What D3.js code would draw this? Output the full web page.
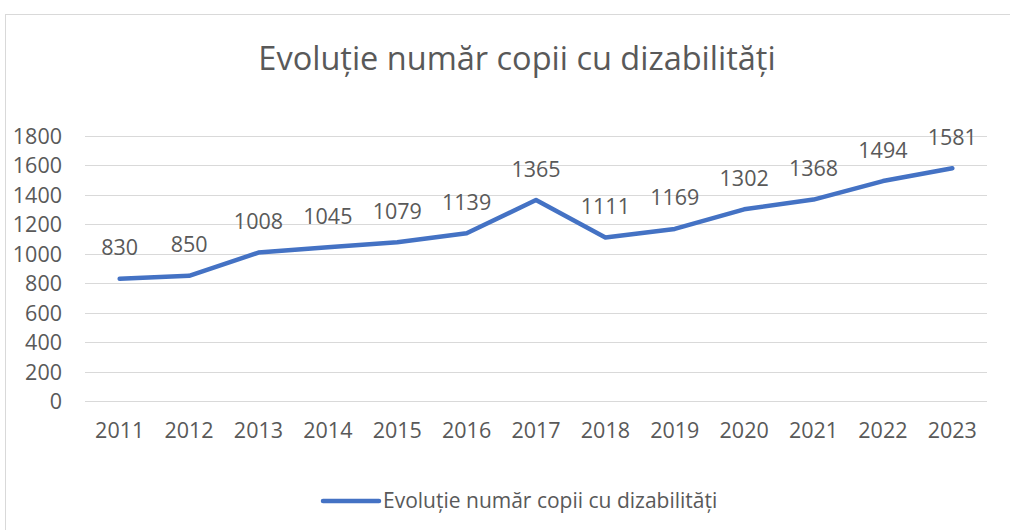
<!DOCTYPE html>
<html>
<head>
<meta charset="utf-8">
<script src="https://cdn.jsdelivr.net/npm/d3@7"></script>
<style>
  body { margin: 0; background: #fff; }
  text { font-family: "Open Sans", sans-serif; fill: #595959; }
</style>
</head>
<body>
<svg id="svg"></svg>
<script>
const chartTitle = 'Evoluție număr copii cu dizabilități';
const seriesName = 'Evoluție număr copii cu dizabilități';
const years = ['2011', '2012', '2013', '2014', '2015', '2016', '2017', '2018', '2019', '2020', '2021', '2022', '2023'];
const counts = [830, 850, 1008, 1045, 1079, 1139, 1365, 1111, 1169, 1302, 1368, 1494, 1581];
const yTicks = [0, 200, 400, 600, 800, 1000, 1200, 1400, 1600, 1800];

const data = years.map((y, i) => ({ year: y, value: counts[i] }));

const W = 1010, H = 530;
const margin = { top: 136, right: 23, bottom: 129, left: 85 };
const width = W - margin.left - margin.right;
const height = H - margin.top - margin.bottom;

const svg = d3.select('#svg').attr('width', W).attr('height', H);

// chart border
svg.append('rect')
  .attr('x', 5.5).attr('y', 14.5)
  .attr('width', W + 20).attr('height', H + 20)
  .attr('fill', 'none').attr('stroke', '#d9d9d9');

// title
svg.append('text')
  .attr('x', 517).attr('y', 70)
  .attr('text-anchor', 'middle')
  .attr('font-size', '32.5px')
  .text(chartTitle);

const xScale = d3.scaleBand().domain(years).range([0, width]);
const yScale = d3.scaleLinear().domain([0, 1800]).range([height, 0]);

const g = svg.append('g').attr('transform', `translate(${margin.left}, ${margin.top})`);

// gridlines
g.append('g')
  .selectAll('line')
  .data(yTicks)
  .enter()
  .append('line')
  .attr('x1', 0).attr('x2', width)
  .attr('y1', d => Math.round(yScale(d)) + 0.5)
  .attr('y2', d => Math.round(yScale(d)) + 0.5)
  .attr('stroke', '#d9d9d9');

// Y AXIS
const yAxis = g.append('g')
  .call(d3.axisLeft(yScale).tickValues(yTicks).tickFormat(d3.format('d')).tickSize(0).tickPadding(23));
yAxis.select('.domain').remove();
yAxis.selectAll('text').attr('font-size', '21.5px').attr('dy', '0.35em');

// X AXIS
const xAxis = g.append('g')
  .attr('transform', `translate(0, ${height})`)
  .call(d3.axisBottom(xScale).tickSize(0).tickPadding(22));
xAxis.select('.domain').remove();
xAxis.selectAll('text').attr('font-size', '21.5px').attr('dy', '0.71em');

// LINE
const line = d3.line()
  .x(d => xScale(d.year) + xScale.bandwidth() / 2)
  .y(d => yScale(d.value));

g.append('path')
  .datum(data)
  .attr('d', line)
  .attr('fill', 'none')
  .attr('stroke', '#4472c4')
  .attr('stroke-width', 4.5)
  .attr('stroke-linejoin', 'round')
  .attr('stroke-linecap', 'round');

// data labels
g.selectAll('.val-label')
  .data(data)
  .enter()
  .append('text')
  .attr('class', 'val-label')
  .attr('x', d => xScale(d.year) + xScale.bandwidth() / 2)
  .attr('y', d => yScale(d.value) - 31)
  .attr('dy', '0.35em')
  .attr('text-anchor', 'middle')
  .attr('font-size', '21.5px')
  .text(d => d.value);

// legend
const legend = svg.append('g').attr('transform', 'translate(323, 501)');
legend.append('line')
  .attr('x1', 0).attr('x2', 56)
  .attr('y1', 0).attr('y2', 0)
  .attr('stroke', '#4472c4')
  .attr('stroke-width', 4.5)
  .attr('stroke-linecap', 'round');
legend.append('text')
  .attr('x', 60).attr('y', 0)
  .attr('dy', '0.35em')
  .attr('font-size', '21px')
  .text(seriesName);
</script>
</body>
</html>
